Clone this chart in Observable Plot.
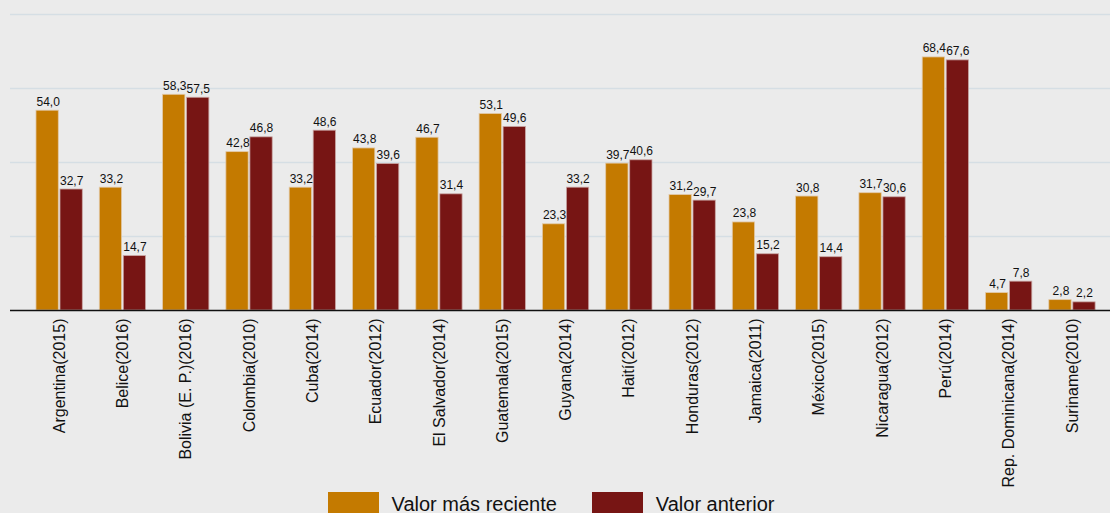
<!DOCTYPE html>
<html><head><meta charset="utf-8">
<script src="https://cdn.jsdelivr.net/npm/d3@7"></script>
<script src="https://cdn.jsdelivr.net/npm/@observablehq/plot@0.6"></script>
<style>
body{margin:0;background:#EBEBEB;font-family:"Liberation Sans",Arial,sans-serif;width:1110px;height:513px;overflow:hidden}
#legend{display:flex;justify-content:center;align-items:center;margin-top:2px;font-size:20px;color:#111;padding-right:8px}
.item{display:flex;align-items:center}
.sw{width:51px;height:24px;margin-right:13px}
</style></head><body>
<div id="chart"></div>
<div id="legend"></div>
<script>
const countries = ["Argentina(2015)","Belice(2016)","Bolivia (E. P.)(2016)","Colombia(2010)","Cuba(2014)","Ecuador(2012)","El Salvador(2014)","Guatemala(2015)","Guyana(2014)","Haití(2012)","Honduras(2012)","Jamaica(2011)","México(2015)","Nicaragua(2012)","Perú(2014)","Rep. Dominicana(2014)","Suriname(2010)"];
const recent = [54.0,33.2,58.3,42.8,33.2,43.8,46.7,53.1,23.3,39.7,31.2,23.8,30.8,31.7,68.4,4.7,2.8];
const previous = [32.7,14.7,57.5,46.8,48.6,39.6,31.4,49.6,33.2,40.6,29.7,15.2,14.4,30.6,67.6,7.8,2.2];
const seriesNames = ["Valor más reciente","Valor anterior"];
const colors = ["#C47A00","#771514"];
const gridTicks = [20,40,60,80];

const dRecent = countries.map((c,i)=>({country:c,value:recent[i]}));
const dPrev = countries.map((c,i)=>({country:c,value:previous[i]}));
const fmt = v => v.toFixed(1).replace(".", ",");

const chart = Plot.plot({
  width:1110, height:490,
  marginTop:14, marginBottom:180, marginLeft:10, marginRight:0,
  style:{background:"#EBEBEB", fontSize:"16px", fontFamily:"Liberation Sans, Arial, sans-serif", color:"#111"},
  x:{domain:countries, range:[27.5,1103.6], paddingInner:0.2686, paddingOuter:0.134, round:false, tickRotate:-90, tickSize:0, tickPadding:8, label:null},
  y:{domain:[0,80], axis:null},
  marks:[
    Plot.ruleY(gridTicks,{stroke:"#D5DEE4", strokeWidth:1.3}),
    Plot.barY(dRecent,{x:"country", y:"value", fill:colors[0], insetRight:24, stroke:"#E2C9A8", strokeWidth:0.8}),
    Plot.barY(dPrev,{x:"country", y:"value", fill:colors[1], insetLeft:24, stroke:"#C9A6A4", strokeWidth:0.8}),
    Plot.text(dRecent,{x:"country", y:"value", text:d=>fmt(d.value), dx:-11.5, dy:-5, lineAnchor:"bottom", fontSize:12, fill:"#111"}),
    Plot.text(dPrev,{x:"country", y:"value", text:d=>fmt(d.value), dx:12, dy:-5, lineAnchor:"bottom", fontSize:12, fill:"#111"}),
    Plot.ruleY([0],{stroke:"#111", strokeWidth:1.3})
  ]
});
document.getElementById("chart").appendChild(chart);

const lg = document.getElementById("legend");
seriesNames.forEach((n,i)=>{
  const it = document.createElement("div"); it.className="item";
  if(i>0) it.style.marginLeft="35px";
  const sw = document.createElement("div"); sw.className="sw"; sw.style.background=colors[i];
  const t = document.createElement("span"); t.textContent=n;
  it.appendChild(sw); it.appendChild(t); lg.appendChild(it);
});
</script>
</body></html>
